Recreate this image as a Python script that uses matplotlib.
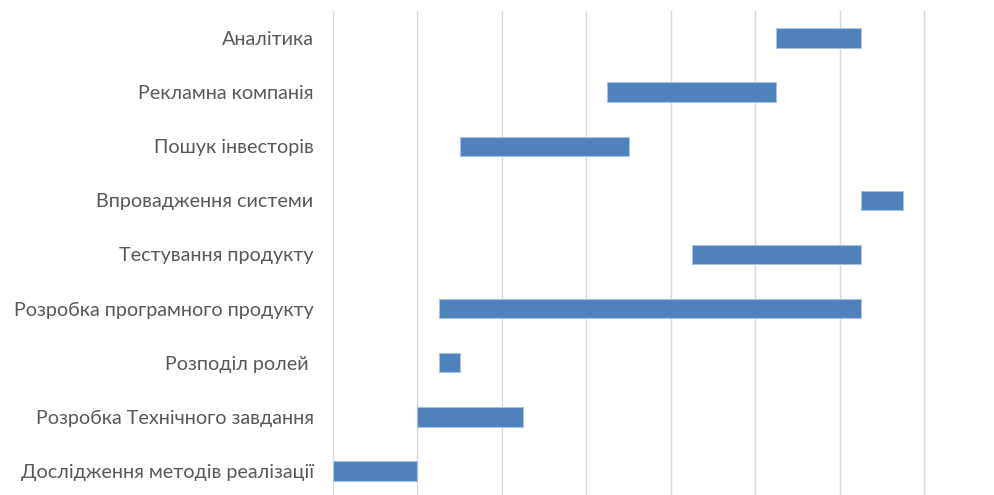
import matplotlib
matplotlib.use("Agg")
import matplotlib.pyplot as plt

tasks = [
    "Дослідження методів реалізації",
    "Розробка Технічного завдання",
    "Розподіл ролей ",
    "Розробка програмного продукту",
    "Тестування продукту",
    "Впровадження системи",
    "Пошук інвесторів",
    "Рекламна компанія",
    "Аналітика",
]
start_weeks = [0, 4, 5, 5, 17, 25, 6, 13, 21]
duration_weeks = [4, 5, 1, 20, 8, 2, 8, 8, 4]
grid_ticks = [0, 4, 8, 12, 16, 20, 24, 28]

plt.rcParams['font.family'] = ['Lato', 'DejaVu Sans']
fig = plt.figure(figsize=(9.95, 4.95), dpi=100)
unit = (924 - 333) / 28
xmax = 28.1
ax = fig.add_axes([333/995, -3/495, unit * xmax / 995, 487/495])

ypos = list(range(len(tasks)))
ax.barh(ypos, duration_weeks, left=start_weeks, height=0.36,
        color='#4F81BD', edgecolor='#A9C3E3', linewidth=0.8, zorder=3)

ax.set_xlim(0, xmax)
ax.set_ylim(-0.5, len(tasks) - 0.5)
ax.set_xticks(grid_ticks)
ax.set_xticklabels([])
ax.set_yticks(ypos)
ax.set_yticklabels(tasks, fontsize=14.2, color='#595959')
ax.tick_params(axis='both', length=0)
ax.tick_params(axis='y', pad=14)
ax.grid(axis='x', color='#D9D9D9', linewidth=1.0, zorder=0)
for s in ax.spines.values():
    s.set_visible(False)

fig.savefig('out.png', dpi=100)
